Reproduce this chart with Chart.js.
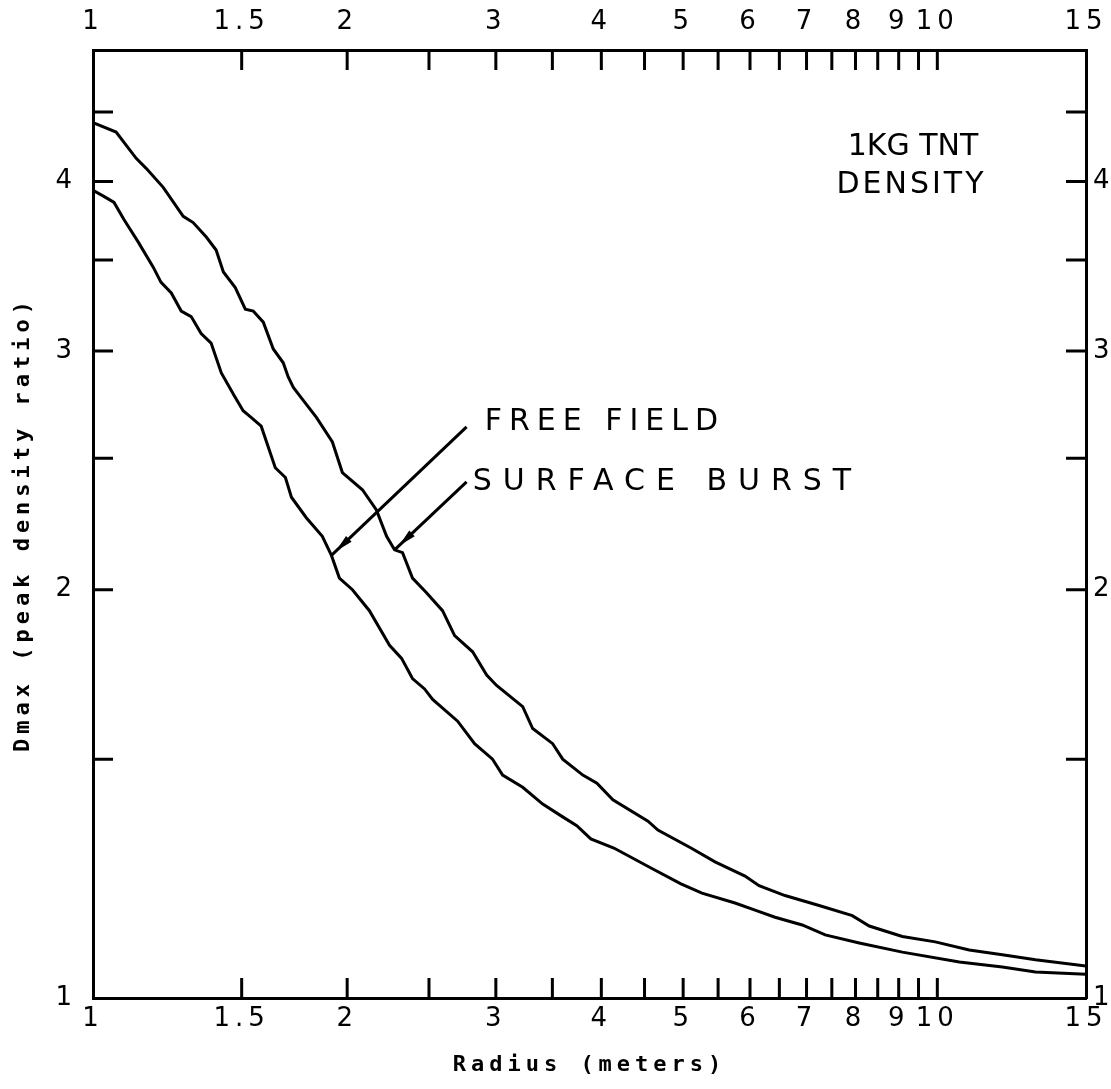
<!DOCTYPE html>
<html>
<head>
<meta charset="utf-8">
<script src="https://cdn.jsdelivr.net/npm/chart.js@4/dist/chart.umd.min.js"></script>
<style>
  html, body { margin: 0; padding: 0; background: #fff; }
</style>
</head>
<body>
<canvas id="grafico" width="1111" height="1089"></canvas>
<script>
// radio (m) y Dmax de cada curva
const surfaceRadius = [1.0, 1.065, 1.125, 1.156, 1.211, 1.279, 1.314, 1.362, 1.399, 1.427, 1.474, 1.515, 1.548, 1.591, 1.635, 1.680, 1.703, 1.727, 1.765, 1.839, 1.921, 1.974, 2.085, 2.166, 2.227, 2.276, 2.326, 2.390, 2.483, 2.594, 2.681, 2.816, 2.926, 3.006, 3.228, 3.317, 3.503, 3.600, 3.803, 3.952, 4.128, 4.543, 4.667, 5.108, 5.454, 5.919, 6.150, 6.601, 7.244, 7.930, 8.306, 9.090, 9.945, 10.91, 11.94, 13.07, 15]
const surfaceDmax = [4.42, 4.35, 4.16, 4.09, 3.96, 3.77, 3.73, 3.64, 3.56, 3.43, 3.34, 3.22, 3.21, 3.15, 3.01, 2.94, 2.87, 2.82, 2.77, 2.68, 2.57, 2.44, 2.37, 2.29, 2.19, 2.14, 2.13, 2.04, 1.99, 1.93, 1.85, 1.80, 1.73, 1.70, 1.64, 1.58, 1.54, 1.50, 1.46, 1.44, 1.40, 1.35, 1.33, 1.29, 1.26, 1.23, 1.21, 1.19, 1.17, 1.15, 1.13, 1.11, 1.10, 1.085, 1.076, 1.067, 1.056]

const freeRadius = [1.0, 1.030, 1.059, 1.088, 1.131, 1.178, 1.204, 1.238, 1.272, 1.307, 1.343, 1.380, 1.419, 1.470, 1.506, 1.539, 1.582, 1.644, 1.690, 1.718, 1.789, 1.869, 1.916, 1.958, 2.029, 2.125, 2.245, 2.320, 2.390, 2.470, 2.525, 2.703, 2.831, 2.973, 3.056, 3.228, 3.409, 3.600, 3.741, 3.887, 4.139, 4.580, 4.970, 5.263, 5.760, 6.083, 6.424, 6.918, 7.366, 8.082, 9.090, 10.62, 11.94, 13.07, 15]
const freeDmax = [3.94, 3.90, 3.86, 3.75, 3.61, 3.46, 3.37, 3.31, 3.21, 3.18, 3.09, 3.04, 2.89, 2.78, 2.71, 2.68, 2.64, 2.46, 2.42, 2.34, 2.26, 2.19, 2.12, 2.04, 2.00, 1.93, 1.82, 1.78, 1.72, 1.69, 1.66, 1.60, 1.54, 1.50, 1.46, 1.43, 1.39, 1.36, 1.34, 1.31, 1.29, 1.247, 1.214, 1.195, 1.175, 1.161, 1.147, 1.132, 1.113, 1.098, 1.081, 1.063, 1.054, 1.045, 1.041]

// marcas y etiquetas de los ejes
const xTickLabels = [1, 1.5, 2, 3, 4, 5, 6, 7, 8, 9, 10, 15]
const xTickMarks = [1.5, 2, 2.5, 3, 3.5, 4, 4.5, 5, 5.5, 6, 6.5, 7, 7.5, 8, 8.5, 9, 9.5, 10]
const yTickLabels = [1, 2, 3, 4]
const yTickMarks = [1.5, 2, 2.5, 3, 3.5, 4, 4.5]

// textos y flechas sobre el grafico (en unidades de los ejes)
const notas = [
    { text: '1KG TNT', r: 9.36, d: 4.236, align: 'center', spacing: 0 },
    { text: 'DENSITY', r: 9.32, d: 3.972, align: 'center', spacing: 3 },
    { text: 'FREE FIELD', r: 2.91, d: 2.66, align: 'left', spacing: 7 },
    { text: 'SURFACE BURST', r: 2.816, d: 2.40, align: 'left', spacing: 11 }
]
const flechas = [
    { desde: [2.77, 2.637], hasta: [1.916, 2.12] },
    { desde: [2.77, 2.402], hasta: [2.276, 2.14] }
]

const fuenteTicks = { family: 'DejaVu Sans', size: 26 }
const fuenteTitulo = { family: 'DejaVu Sans Mono', size: 22, weight: 'bold' }

function ejeX(pos) {
    return {
        type: 'logarithmic',
        position: pos,
        min: 1,
        max: 15,
        bounds: 'data',
        grid: { display: false, drawTicks: false },
        border: { display: true, color: '#000', width: 3 },
        afterBuildTicks: s => { s.ticks = xTickLabels.map(v => ({ value: v })) },
        afterFit: s => {
            s.height = pos === 'bottom' ? 91 : 50
            s.paddingLeft = 0
            s.paddingRight = 0
        },
        ticks: {
            autoSkip: false, maxRotation: 0, minRotation: 0,
            color: '#000', font: fuenteTicks,
            padding: pos === 'bottom' ? 6 : 12,
            callback: v => String(v)
        },
        title: pos === 'bottom'
            ? { display: true, text: 'Radius (meters)', color: '#000', font: fuenteTitulo, padding: { top: 0, bottom: 11 } }
            : { display: false }
    }
}

function ejeY(pos) {
    return {
        type: 'logarithmic',
        position: pos,
        min: 1,
        max: 5,
        bounds: 'data',
        grid: { display: false, drawTicks: false },
        border: { display: true, color: '#000', width: 3 },
        afterBuildTicks: s => { s.ticks = yTickLabels.map(v => ({ value: v })) },
        afterFit: s => {
            s.width = pos === 'left' ? 93 : 25
            s.paddingTop = 0
            s.paddingBottom = 0
        },
        ticks: {
            autoSkip: false,
            color: '#000', font: fuenteTicks,
            padding: pos === 'left' ? 16 : 7,
            callback: v => String(v)
        },
        title: pos === 'left'
            ? { display: true, text: 'Dmax (peak density ratio)', color: '#000', font: fuenteTitulo, padding: { top: 10, bottom: 0 } }
            : { display: false }
    }
}

function dibujarFlecha(ctx, x1, y1, x2, y2) {
    ctx.beginPath()
    ctx.moveTo(x1, y1)
    ctx.lineTo(x2, y2)
    ctx.stroke()
    const a = Math.atan2(y2 - y1, x2 - x1)
    const c = Math.cos(a), s = Math.sin(a)
    const px = x2 - 6 * c, py = y2 - 6 * s
    ctx.beginPath()
    ctx.moveTo(px, py)
    ctx.lineTo(px - 18 * c + 4 * s, py - 18 * s - 4 * c)
    ctx.lineTo(px - 18 * c - 4 * s, py - 18 * s + 4 * c)
    ctx.closePath()
    ctx.fill()
}

const extras = {
    id: 'extras',
    beforeDraw(chart) {
        chart.ctx.letterSpacing = '5px'
    },
    afterDatasetsDraw(chart) {
        const { ctx, chartArea: a, scales } = chart
        ctx.save()
        ctx.strokeStyle = '#000'
        ctx.fillStyle = '#000'
        ctx.lineWidth = 3
        ctx.lineCap = 'butt'

        // marcas hacia dentro en los cuatro lados
        ctx.beginPath()
        xTickMarks.forEach(v => {
            const px = scales.x.getPixelForValue(v)
            ctx.moveTo(px, a.bottom); ctx.lineTo(px, a.bottom - 20)
            ctx.moveTo(px, a.top); ctx.lineTo(px, a.top + 20)
        })
        yTickMarks.forEach(v => {
            const py = scales.y.getPixelForValue(v)
            ctx.moveTo(a.left, py); ctx.lineTo(a.left + 20, py)
            ctx.moveTo(a.right, py); ctx.lineTo(a.right - 20, py)
        })
        ctx.stroke()

        // flechas
        flechas.forEach(f => {
            dibujarFlecha(ctx,
                scales.x.getPixelForValue(f.desde[0]), scales.y.getPixelForValue(f.desde[1]),
                scales.x.getPixelForValue(f.hasta[0]), scales.y.getPixelForValue(f.hasta[1]))
        })

        // rotulos
        ctx.font = '30px "DejaVu Sans"'
        ctx.textBaseline = 'middle'
        notas.forEach(n => {
            ctx.letterSpacing = n.spacing + 'px'
            ctx.textAlign = n.align
            ctx.fillText(n.text, scales.x.getPixelForValue(n.r), scales.y.getPixelForValue(n.d))
        })
        ctx.restore()
    }
}

const ctx = document.getElementById('grafico')
const grafico = new Chart(ctx, {
    type: 'line',
    data: {
        datasets: [
            {
                label: 'Surface burst',
                data: surfaceRadius.map((r, i) => ({ x: r, y: surfaceDmax[i] })),
                borderColor: '#000',
                borderWidth: 3,
                pointRadius: 0,
                tension: 0,
                fill: false,
                xAxisID: 'x',
                yAxisID: 'y'
            },
            {
                label: 'Free field',
                data: freeRadius.map((r, i) => ({ x: r, y: freeDmax[i] })),
                borderColor: '#000',
                borderWidth: 3,
                pointRadius: 0,
                tension: 0,
                fill: false,
                xAxisID: 'x',
                yAxisID: 'y'
            }
        ]
    },
    options: {
        responsive: false,
        animation: false,
        layout: { padding: 0 },
        plugins: {
            legend: { display: false },
            tooltip: { enabled: false }
        },
        scales: {
            x: ejeX('bottom'),
            x2: ejeX('top'),
            y: ejeY('left'),
            y2: ejeY('right')
        }
    },
    plugins: [extras]
})
</script>
</body>
</html>
